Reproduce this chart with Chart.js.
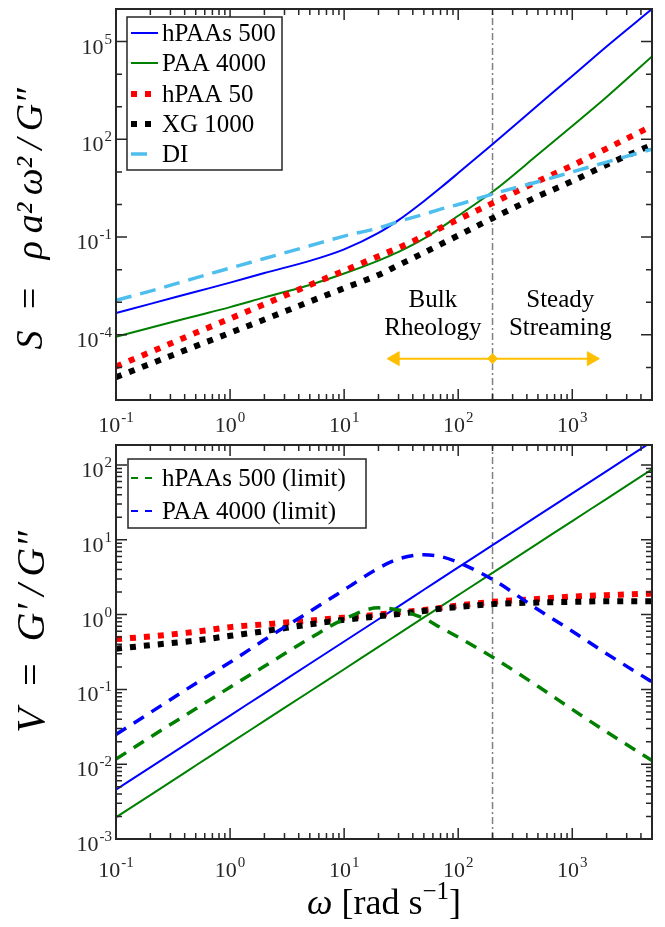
<!DOCTYPE html>
<html>
<head>
<meta charset="utf-8">
<script src="https://cdn.jsdelivr.net/npm/chart.js@4.4.1/dist/chart.umd.min.js"></script>
<style>
  body { margin: 0; background: #fff; }
  #wrap { position: relative; width: 665px; height: 927px; }
  #topBox { position: absolute; left: 0; top: 0; width: 665px; height: 440px; }
  #botBox { position: absolute; left: 0; top: 440px; width: 665px; height: 487px; }
</style>
</head>
<body>
<div id="wrap">
  <div id="topBox"><canvas id="sChart"></canvas></div>
  <div id="botBox"><canvas id="vChart"></canvas></div>
</div>
<script>
// angular frequency, rad/s
var omega = [0.1, 0.2, 0.5, 1, 2, 5, 10, 20, 30, 50, 70, 100, 200, 500, 1000, 2000, 5000];

// top panel: S = rho a^2 w^2 / G''
var sHPAAs500 = [4.7e-4, 8.9e-4, 2.1e-3, 4.0e-3, 7.9e-3, 0.0186, 0.042, 0.134, 0.331, 1.26, 3.25, 9.2, 71, 1110, 8800, 7.1e4, 1.0e6];
var sPAA4000  = [8.7e-5, 1.66e-4, 3.8e-4, 7.1e-4, 1.41e-3, 3.4e-3, 7.6e-3, 0.019, 0.035, 0.089, 0.19, 0.45, 2.45, 34, 257, 2000, 3.5e4];
var sHPAA50   = [1.07e-5, 2.95e-5, 1.15e-4, 3.16e-4, 8.7e-4, 3.4e-3, 9.3e-3, 0.026, 0.047, 0.107, 0.19, 0.35, 1.1, 5.2, 15.8, 52, 257];
var sXG1000   = [5.0e-6, 1.29e-5, 4.5e-5, 1.15e-4, 2.95e-4, 1.05e-3, 2.7e-3, 6.9e-3, 0.0138, 0.033, 0.060, 0.112, 0.38, 1.78, 5.2, 16.6, 68];
var sDI       = [1.15e-3, 2.2e-3, 5.6e-3, 0.0112, 0.022, 0.054, 0.107, 0.19, 0.30, 0.50, 0.72, 1.0, 2.1, 5.0, 10, 20, 50];

// bottom panel: V = G'/G''
var vHPAAs500      = [4.57e-3, 9.08e-3, 0.0225, 0.0447, 0.0887, 0.220, 0.437, 0.867, 1.29, 2.15, 3.0, 4.27, 8.47, 21.0, 41.7, 82.8, 205];
var vPAA4000       = [1.95e-3, 3.87e-3, 9.6e-3, 0.0191, 0.0379, 0.0938, 0.186, 0.370, 0.552, 0.916, 1.28, 1.82, 3.61, 8.95, 17.8, 35.3, 87.5];
var vHPAA50        = [0.47, 0.51, 0.59, 0.68, 0.74, 0.83, 0.91, 1.0, 1.07, 1.15, 1.23, 1.32, 1.48, 1.62, 1.74, 1.82, 1.91];
var vXG1000        = [0.35, 0.39, 0.45, 0.52, 0.60, 0.74, 0.85, 0.95, 1.02, 1.12, 1.20, 1.26, 1.38, 1.45, 1.48, 1.51, 1.51];
var vHPAAs500Limit = [0.0117, 0.023, 0.055, 0.107, 0.204, 0.48, 0.87, 1.23, 1.15, 0.89, 0.67, 0.50, 0.27, 0.11, 0.054, 0.027, 0.0112];
var vPAA4000Limit  = [0.025, 0.049, 0.12, 0.23, 0.46, 1.10, 2.14, 4.17, 5.54, 6.31, 5.97, 4.99, 2.95, 1.17, 0.60, 0.30, 0.126];

// axes
var xMin = 0.1, xMax = 5000;
var sMin = 1e-6, sMax = 1e6;
var vMin = 1e-3, vMax = 185;
var xLabelExps = [-1, 0, 1, 2, 3];
var sLabelExps = [-4, -1, 2, 5];
var vLabelExps = [-3, -2, -1, 0, 1, 2];

// regime boundary and arrow
var boundaryOmega = 200;
var arrowOmega = [28, 200, 1470];
var arrowS = [1.86e-5, 1.86e-5, 1.86e-5];
var regimeText = [['Bulk', 'Rheology'], ['Steady', 'Streaming']];
var regimeOmega = [60, 785];
var regimeS = [1.15e-3, 1.6e-4];

var SERIF = "'Liberation Serif', 'Times New Roman', serif";
var AXIS = '#262626';

function buildLogTicks(min, max, withMinor, labelExps) {
    var ticks = [];
    var e0 = Math.floor(Math.log10(min)), e1 = Math.ceil(Math.log10(max));
    for (var e = e0; e <= e1; e++) {
        for (var m = 1; m <= (withMinor ? 9 : 1); m++) {
            var v = m * Math.pow(10, e);
            if (v < min * 0.999 || v > max * 1.001) continue;
            var lab = m === 1 && labelExps.indexOf(e) >= 0;
            ticks.push({ value: v, long: m === 1 && (withMinor || lab), exp: lab ? e : null });
        }
    }
    return ticks;
}

function series(ys) {
    return omega.map(function(w, i) { return { x: w, y: ys[i] }; });
}

function line(label, ys, color, width, dash, order, legend) {
    return {
        label: label, data: series(ys), borderColor: color, borderWidth: width,
        borderDash: dash || [], borderCapStyle: 'butt', pointRadius: 0,
        cubicInterpolationMode: 'monotone', fill: false, order: order,
        inLegend: !!legend, legendWidth: legend && legend.width, legendDash: legend && legend.dash,
        legendEnd: legend && legend.end
    };
}

function boundary(yLo, yHi) {
    return {
        label: '', data: [{ x: boundaryOmega, y: yLo }, { x: boundaryOmega, y: yHi }],
        borderColor: '#808080', borderWidth: 1.5, borderDash: [7, 3, 2, 3], pointRadius: 0, order: 9
    };
}

// "10" with a raised exponent
function drawPow(ctx, exp, x, baseline, align) {
    var e = String(exp);
    ctx.font = '22px ' + SERIF;
    var wb = ctx.measureText('10').width;
    ctx.font = '15px ' + SERIF;
    var we = ctx.measureText(e).width;
    var w = wb + we + 1;
    var x0 = align === 'right' ? x - w : x - w / 2;
    ctx.font = '22px ' + SERIF;
    ctx.fillText('10', x0, baseline);
    ctx.font = '15px ' + SERIF;
    ctx.fillText(e, x0 + wb + 1, baseline - 10);
}

// box with inward ticks on all four sides, plus tick labels
var axesFrame = {
    id: 'axesFrame',
    afterDatasetsDraw: function(chart, args, o) {
        var ctx = chart.ctx, a = chart.chartArea, xs = chart.scales.x, ys = chart.scales.y;
        ctx.save();
        ctx.strokeStyle = AXIS;
        ctx.lineWidth = 1.5;
        ctx.beginPath();
        xs.ticks.forEach(function(t) {
            var p = xs.getPixelForValue(t.value), len = t.long ? 11 : 6;
            ctx.moveTo(p, a.bottom); ctx.lineTo(p, a.bottom - len);
            ctx.moveTo(p, a.top); ctx.lineTo(p, a.top + len);
        });
        ys.ticks.forEach(function(t) {
            var p = ys.getPixelForValue(t.value), len = t.long ? 11 : 6;
            ctx.moveTo(a.left, p); ctx.lineTo(a.left + len, p);
            ctx.moveTo(a.right, p); ctx.lineTo(a.right - len, p);
        });
        ctx.stroke();
        ctx.lineWidth = 2;
        ctx.strokeRect(a.left, a.top, a.right - a.left, a.bottom - a.top);

        ctx.fillStyle = AXIS;
        ctx.textAlign = 'left';
        ctx.textBaseline = 'alphabetic';
        xs.ticks.forEach(function(t) {
            if (t.exp === null) return;
            drawPow(ctx, t.exp, xs.getPixelForValue(t.value), a.bottom + o.xDrop, 'center');
        });
        ys.ticks.forEach(function(t) {
            if (t.exp === null) return;
            drawPow(ctx, t.exp, a.left - 4, ys.getPixelForValue(t.value) + 12, 'right');
        });
        ctx.restore();
    }
};

// legend drawn inside the plot
var insetLegend = {
    id: 'insetLegend',
    afterDraw: function(chart, args, o) {
        if (!o.box) return;
        var ctx = chart.ctx;
        ctx.save();
        ctx.fillStyle = '#fff';
        ctx.fillRect(o.box[0], o.box[1], o.box[2], o.box[3]);
        ctx.strokeStyle = AXIS;
        ctx.lineWidth = 1.5;
        ctx.strokeRect(o.box[0], o.box[1], o.box[2], o.box[3]);
        var row = 0;
        chart.data.datasets.forEach(function(ds) {
            if (!ds.inLegend) return;
            var y = o.rows[row++];
            ctx.beginPath();
            ctx.strokeStyle = ds.borderColor;
            ctx.lineWidth = ds.legendWidth || ds.borderWidth;
            ctx.setLineDash(ds.legendDash || ds.borderDash || []);
            ctx.moveTo(o.x0, y);
            ctx.lineTo(ds.legendEnd || o.x1, y);
            ctx.stroke();
            ctx.setLineDash([]);
            ctx.fillStyle = '#000';
            ctx.font = '25px ' + SERIF;
            ctx.textBaseline = 'middle';
            ctx.fillText(ds.label, o.textX, y + 1);
        });
        ctx.restore();
    }
};

var regimeLabels = {
    id: 'regimeLabels',
    afterDraw: function(chart, args, o) {
        if (!o.show) return;
        var ctx = chart.ctx, xs = chart.scales.x, ys = chart.scales.y;
        ctx.save();
        ctx.fillStyle = '#000';
        ctx.font = '25px ' + SERIF;
        ctx.textAlign = 'center';
        ctx.textBaseline = 'middle';
        regimeText.forEach(function(lines, i) {
            lines.forEach(function(t, j) {
                ctx.fillText(t, xs.getPixelForValue(regimeOmega[i]), ys.getPixelForValue(regimeS[j]));
            });
        });
        ctx.restore();
    }
};

// x title: italic omega, upright unit with a real superscript
var omegaTitle = {
    id: 'omegaTitle',
    afterDraw: function(chart, args, o) {
        if (!o.show) return;
        var ctx = chart.ctx, a = chart.chartArea;
        var parts = [
            { t: '\u03C9', f: 'italic 36px ' + SERIF, dy: 0 },
            { t: ' [rad s', f: '36px ' + SERIF, dy: 0 },
            { t: '\u22121', f: '25px ' + SERIF, dy: -15 },
            { t: ']', f: '36px ' + SERIF, dy: 0 }
        ];
        ctx.save();
        ctx.fillStyle = '#000';
        ctx.textBaseline = 'alphabetic';
        var total = 0;
        parts.forEach(function(p) { ctx.font = p.f; p.w = ctx.measureText(p.t).width; total += p.w; });
        var x = (a.left + a.right) / 2 - total / 2;
        parts.forEach(function(p) {
            ctx.font = p.f;
            ctx.fillText(p.t, x, o.baseline + p.dy);
            x += p.w;
        });
        ctx.restore();
    }
};

function options(yMin, yMax, yLabelExps, yMinor, yTitle, yTitleSize, xHeight, plugins) {
    return {
        responsive: true,
        maintainAspectRatio: false,
        animation: false,
        layout: { padding: { left: 0, right: 13, top: 5, bottom: 0 } },
        plugins: Object.assign({ legend: { display: false }, tooltip: { enabled: false } }, plugins),
        scales: {
            x: {
                type: 'logarithmic', min: xMin, max: xMax,
                grid: { display: false, drawTicks: false }, border: { display: false },
                afterBuildTicks: function(scale) { scale.ticks = buildLogTicks(xMin, xMax, true, xLabelExps); },
                afterFit: function(scale) { scale.height = xHeight; },
                ticks: { display: false, autoSkip: false }
            },
            y: {
                type: 'logarithmic', min: yMin, max: yMax,
                grid: { display: false, drawTicks: false }, border: { display: false },
                afterBuildTicks: function(scale) { scale.ticks = buildLogTicks(yMin, yMax, yMinor, yLabelExps); },
                afterFit: function(scale) { scale.width = 116; },
                title: {
                    display: true, text: yTitle, color: '#000',
                    font: { family: SERIF, size: yTitleSize, style: 'italic', lineHeight: 1 },
                    padding: { top: 13, bottom: 0 }
                },
                ticks: { display: false, autoSkip: false }
            }
        }
    };
}

// === top panel ===
var sCtx = document.getElementById('sChart').getContext('2d');
var sChart = new Chart(sCtx, {
    type: 'line',
    data: {
        datasets: [
            line('hPAAs 500', sHPAAs500, '#0000FF', 2, null, 5, {}),
            line('PAA 4000', sPAA4000, '#008000', 2, null, 4, {}),
            line('hPAA 50', sHPAA50, '#FF0000', 6, [6, 8], 3, { end: 152 }),
            line('XG 1000', sXG1000, '#000000', 6, [6, 8], 2, { end: 152 }),
            line('DI', sDI, '#4DBEEE', 3.5, [16, 9], 1, { dash: [16, 30] }),
            boundary(sMin, sMax),
            {
                label: '', data: arrowOmega.map(function(w, i) { return { x: w, y: arrowS[i] }; }),
                borderColor: '#FFBF00', borderWidth: 2, order: 0,
                pointStyle: ['triangle', 'rectRot', 'triangle'], pointRotation: [-90, 0, 90],
                pointRadius: [8, 5, 8], pointBackgroundColor: '#FFBF00', pointBorderColor: '#FFBF00', pointBorderWidth: 1
            }
        ]
    },
    options: options(sMin, sMax, sLabelExps, false,
        'S  =  \u2009\u03C1\u2009a\u00B2\u2009\u03C9\u00B2\u2009/\u2009G\u2033   ', 38, 40, {
        insetLegend: { box: [127, 17, 155, 153], rows: [33, 63, 94, 124, 154], x0: 131, x1: 158, textX: 162 },
        regimeLabels: { show: true },
        axesFrame: { xDrop: 32 }
    }),
    plugins: [axesFrame, insetLegend, regimeLabels]
});

// === bottom panel ===
var vCtx = document.getElementById('vChart').getContext('2d');
var vChart = new Chart(vCtx, {
    type: 'line',
    data: {
        datasets: [
            line('hPAAs 500', vHPAAs500, '#0000FF', 2, null, 5),
            line('PAA 4000', vPAA4000, '#008000', 2, null, 4),
            line('hPAAs 500 (limit)', vHPAAs500Limit, '#008000', 3.5, [12, 9], 2, { width: 2, dash: [7, 7] }),
            line('PAA 4000 (limit)', vPAA4000Limit, '#0000FF', 3.5, [12, 9], 1, { width: 2, dash: [7, 7] }),
            line('hPAA 50', vHPAA50, '#FF0000', 6, [6, 8], 3),
            line('XG 1000', vXG1000, '#000000', 6, [6, 8], 2),
            boundary(vMin, vMax)
        ]
    },
    options: options(vMin, vMax, vLabelExps, true, '  V  =  G\u2032\u2009/\u2009G\u2033', 40, 88, {
        insetLegend: { box: [128, 19, 238, 69], rows: [38, 71], x0: 131, x1: 153, textX: 162 },
        omegaTitle: { show: true, baseline: 474 },
        axesFrame: { xDrop: 38 }
    }),
    plugins: [axesFrame, insetLegend, omegaTitle]
});
</script>
</body>
</html>
